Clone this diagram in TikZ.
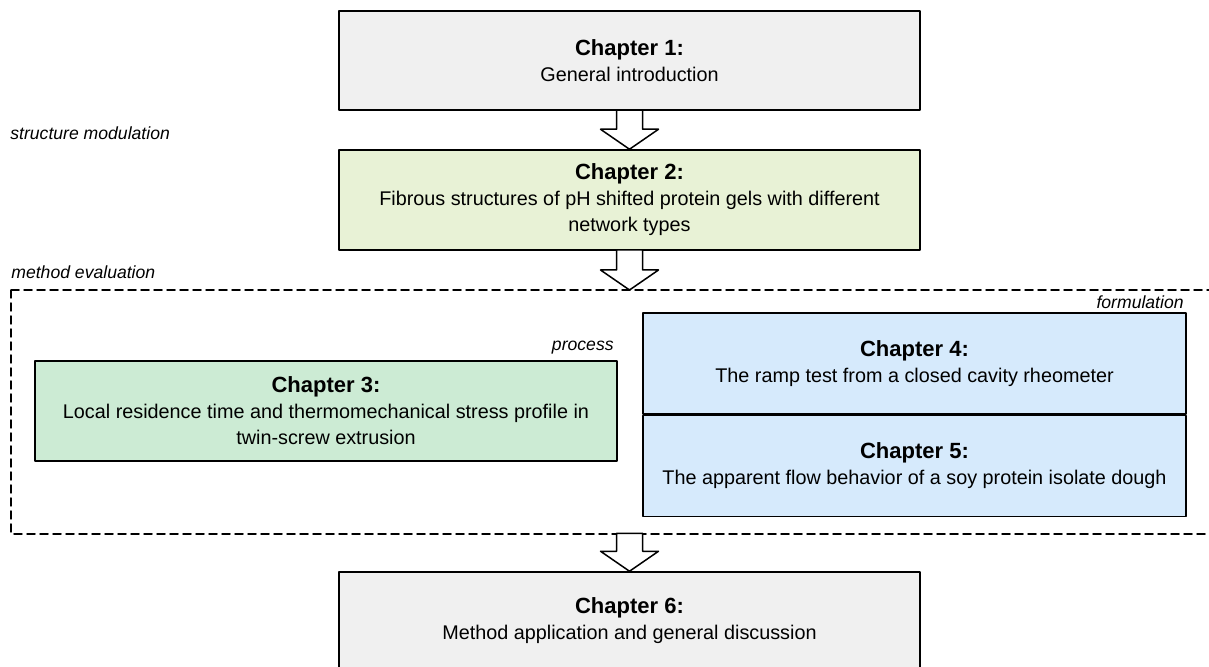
\documentclass[tikz,border=0pt]{standalone}
\usepackage{fontspec}
\setmainfont{Liberation Sans}
\usepackage{tikz}
\usepackage{xcolor}
\definecolor{greybox}{HTML}{F0F0F0}
\definecolor{limebox}{HTML}{E8F2D6}
\definecolor{mintbox}{HTML}{CCEBD4}
\definecolor{bluebox}{HTML}{D6EAFC}
\tikzset{
    downarrow/.pic = {
    \draw[line width=0.75pt, fill=white] (0,0) -- (-29,-20) -- (-13,-20) -- (-13,-#1) -- (13,-#1) -- (13,-20) -- (29,-20) -- cycle;
    },
    chapbox/.style = {draw, line width=0.75pt, align=center, inner sep=0pt,
        font=\fontsize{9.9}{13}\selectfont},
    sidelabel/.style = {font=\fontsize{8.8}{10}\selectfont\itshape, inner sep=0pt}
}
\newcommand{\chaptitle}[1]{{\bfseries\fontsize{11}{13}\selectfont #1}}

\begin{document}
\begin{tikzpicture}[line cap=round,line join=round,x=0.5pt,y=-0.5pt]
\useasboundingbox (0,0) rectangle (1209,667);
\draw [line width=0.75pt,dash pattern=on 4pt off 2.5pt] (11,290) rectangle (1240,534);
\coordinate (evaltop) at (629.5,290);
\coordinate (evalbot) at (629.5,534);

\node [chapbox, fill=greybox, minimum width=290.5pt, minimum height=49.5pt] (ch1) at (629.5,60.5)
    {\chaptitle{Chapter 1:}\\General introduction};
\node [chapbox, fill=limebox, minimum width=290.5pt, minimum height=50pt] (ch2) at (629.5,200)
    {\chaptitle{Chapter 2:}\\Fibrous structures of pH shifted protein gels with different\\network types};
\node [chapbox, fill=mintbox, minimum width=291pt, minimum height=50pt] (ch3) at (326,411)
    {\chaptitle{Chapter 3:}\\Local residence time and thermomechanical stress profile in\\twin-screw extrusion};
\node [chapbox, fill=bluebox, minimum width=271.5pt, minimum height=50.5pt] (ch4) at (914.5,363.5)
    {\chaptitle{Chapter 4:}\\The ramp test from a closed cavity rheometer};
\node [chapbox, fill=bluebox, minimum width=271.5pt, minimum height=50.5pt, anchor=north] (ch5) at (ch4.south)
    {\chaptitle{Chapter 5:}\\The apparent flow behavior of a soy protein isolate dough};
\node [chapbox, fill=greybox, minimum width=290.5pt, minimum height=48.5pt] (ch6) at (629.5,620.5)
    {\chaptitle{Chapter 6:}\\Method application and general discussion};

\node [sidelabel, anchor=west] (structlbl) at (10,133) {structure modulation};
\node [sidelabel, anchor=west] (methodlbl) at (11,272) {method evaluation};
\node [sidelabel, anchor=east] (proclbl) at (614,348) {process};
\node [sidelabel, anchor=east] (formlbl) at (1184,302) {formulation};

\path (ch2.north) pic {downarrow=39};
\path (evaltop) pic {downarrow=40};
\path (ch6.north) pic {downarrow=38};
\end{tikzpicture}
\end{document}
